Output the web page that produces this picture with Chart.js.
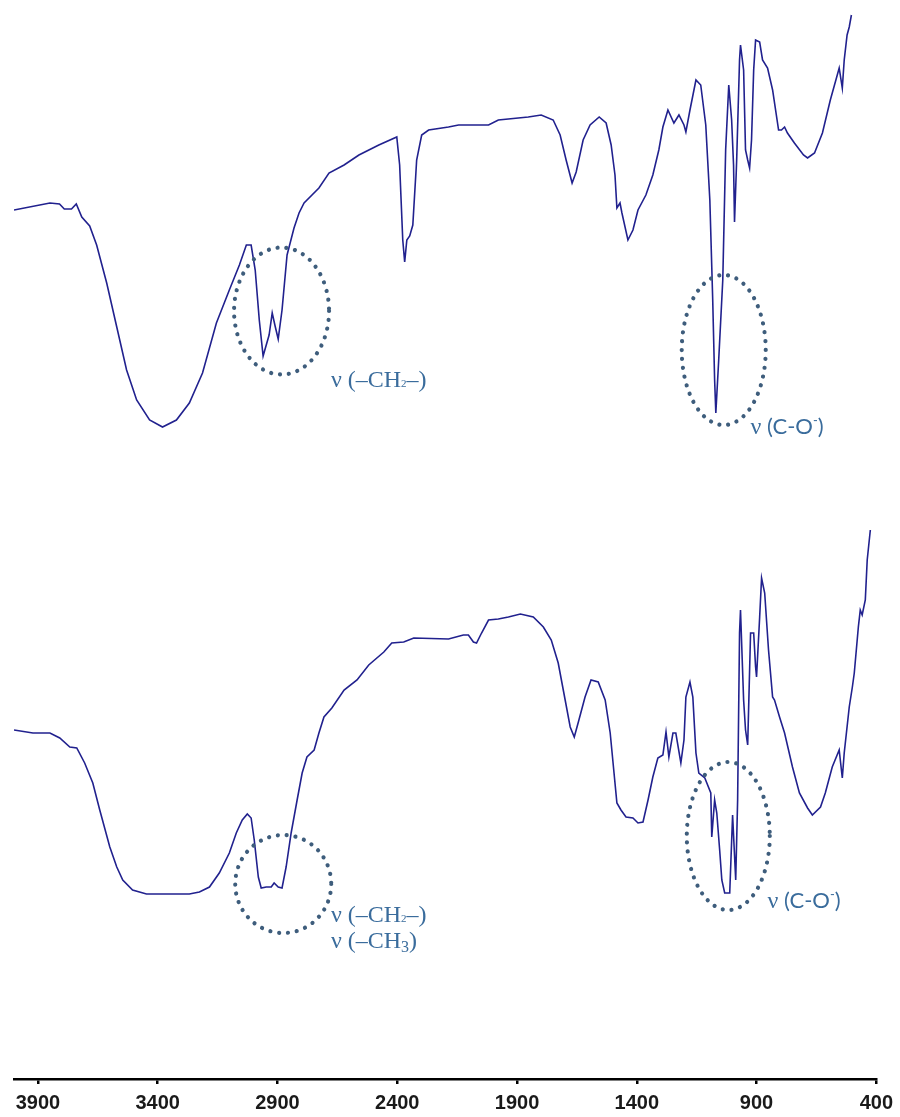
<!DOCTYPE html>
<html>
<head>
<meta charset="utf-8">
<script src="https://cdn.jsdelivr.net/npm/chart.js@4.4.1/dist/chart.umd.min.js"></script>
<style>
  html, body { margin: 0; padding: 0; background: #ffffff; }
  #wrap { width: 900px; height: 1117px; position: relative; }
</style>
</head>
<body>
<div id="wrap"><canvas id="c" width="900" height="1117"></canvas></div>
<script>
// ---------------- data (wavenumber in cm-1, transmittance in arbitrary %T, offset spectra) ----------------
const tickWavenumbers = [3900, 3400, 2900, 2400, 1900, 1400, 900, 400];

const topWavenumber = [4000,3850,3810,3790,3760,3740,3717,3684,3655,3613,3571,3530,3488,3434,3380,3322,3268,3213,3155,3101,3059,3030,3010,2993,2976,2960,2935,2922,2910,2897,2881,2860,2831,2810,2789,2727,2685,2622,2560,2477,2402,2390,2377,2369,2360,2348,2335,2319,2298,2269,2186,2144,2019,1978,1853,1799,1749,1720,1695,1670,1653,1624,1595,1557,1528,1507,1491,1483,1470,1462,1437,1416,1395,1362,1333,1308,1291,1270,1245,1224,1203,1195,1178,1153,1133,1112,1095,1083,1075,1070,1058,1041,1029,1016,1004,996,992,983,971,967,954,946,937,929,921,912,904,887,875,854,833,808,796,783,771,742,704,687,658,625,592,563,555,542,534,522,513,504];
const topTransmittance = [86.9,87.6,87.5,87.0,87.0,87.5,86.2,85.3,83.4,79.6,75.2,70.9,67.9,65.9,65.2,65.9,67.6,70.6,75.6,78.9,81.4,83.4,83.4,80.9,75.9,72.3,74.4,76.6,75.3,74.0,76.9,82.4,85.1,86.6,87.6,89.1,90.6,91.4,92.4,93.4,94.2,91.4,83.9,81.7,83.9,84.3,85.4,91.9,94.4,94.9,95.2,95.4,95.4,95.9,96.2,96.4,95.9,94.4,91.9,89.6,90.7,93.9,95.4,96.2,95.6,93.4,90.4,87.1,87.6,86.6,83.9,84.9,86.9,88.4,90.4,92.9,95.2,96.9,95.6,96.4,95.4,94.7,96.9,99.9,99.4,95.4,87.9,77.9,69.9,66.6,71.9,79.9,92.9,99.4,95.9,91.4,85.7,91.9,101.9,103.4,100.9,92.9,91.9,91.1,93.9,100.9,103.9,103.7,101.9,101.1,98.9,94.9,94.9,95.2,94.6,93.6,92.4,92.1,92.6,94.6,97.9,100.4,101.1,99.1,101.9,104.4,105.2,106.4];

const bottomWavenumber = [4000,3921,3850,3809,3767,3738,3705,3671,3642,3600,3571,3546,3505,3447,3268,3226,3184,3143,3101,3072,3047,3026,3010,2997,2980,2968,2947,2926,2914,2897,2881,2864,2843,2818,2797,2777,2747,2727,2706,2673,2622,2568,2519,2456,2423,2373,2331,2186,2124,2103,2082,2069,2048,2019,1978,1936,1886,1832,1790,1757,1728,1699,1678,1661,1645,1616,1591,1561,1532,1511,1495,1483,1466,1445,1416,1395,1374,1353,1333,1312,1291,1278,1266,1249,1237,1216,1203,1195,1178,1166,1153,1141,1116,1091,1087,1075,1066,1054,1045,1033,1012,1000,987,979,971,967,954,946,937,925,912,904,900,887,879,866,850,833,825,804,783,750,721,687,667,633,613,584,555,542,534,513,500,492,475,467,459,446,438,425];
const bottomTransmittance = [34.9,34.6,34.6,34.1,33.2,33.1,31.6,29.6,26.9,23.2,21.2,19.9,18.9,18.5,18.5,18.7,19.2,20.6,22.6,24.6,25.9,26.5,26.1,23.9,20.2,19.1,19.2,19.2,19.6,19.2,19.1,21.2,24.6,27.9,30.6,32.2,32.9,34.6,36.2,37.1,38.9,39.9,41.4,42.7,43.6,43.7,44.1,44.0,44.4,44.4,43.7,43.6,44.6,45.9,46.0,46.2,46.5,46.2,45.2,43.9,41.6,37.9,35.2,34.2,35.6,38.2,39.9,39.7,37.9,34.6,30.6,27.6,26.9,26.2,26.1,25.6,25.7,27.9,30.2,32.1,32.4,34.7,32.2,34.6,34.6,31.6,33.9,38.2,39.7,38.2,32.6,30.6,30.1,28.6,24.2,27.9,26.6,22.9,19.9,18.6,18.6,26.4,19.9,27.9,44.6,46.9,37.9,34.9,33.4,44.6,44.6,41.2,40.2,46.2,50.1,48.6,42.9,38.2,37.9,36.2,34.6,31.2,28.6,27.1,26.4,27.2,28.6,31.2,32.9,30.1,32.6,37.2,39.2,40.6,45.2,46.9,46.4,47.9,51.9,54.9];

// band annotations (centre in data units: wavenumber, transmittance)
const bandRings = [
  { wn: 2883, t: 76.8, rx: 47.5, ry: 63.5 },
  { wn: 1037, t: 72.9, rx: 42, ry: 75 },
  { wn: 2876, t: 19.5, rx: 48, ry: 49 },
  { wn: 1018, t: 24.3, rx: 41.5, ry: 74 }
];
const bandLabels = [
  { wn: 2677, t: 69.2, kind: 'CH2' },
  { wn: 925,  t: 64.5, kind: 'CO' },
  { wn: 2677, t: 15.7, kind: 'CH2' },
  { wn: 2677, t: 13.1, kind: 'CH3' },
  { wn: 854,  t: 17.1, kind: 'CO' }
];

function pairs(xs, ys) {
  const n = Math.min(xs.length, ys.length);
  const out = [];
  for (let i = 0; i < n; i++) out.push({ x: xs[i], y: ys[i] });
  return out;
}

const SERIF = '"Liberation Serif", "DejaVu Serif", serif';
const SANS = 'Lato, "Open Sans", sans-serif';
const labelRuns = {
  CH2: [
    { text: 'ν (–CH', font: '24px ' + SERIF, dy: 0 },
    { text: '2', font: '11px ' + SERIF, dy: 0 },
    { text: '–)', font: '24px ' + SERIF, dy: 0 }
  ],
  CH3: [
    { text: 'ν (–CH', font: '24px ' + SERIF, dy: 0 },
    { text: '3', font: '16px ' + SERIF, dy: 4 },
    { text: ')', font: '24px ' + SERIF, dy: 0 }
  ],
  CO: [
    { text: 'ν', font: '24px ' + SERIF, dy: 0 },
    { text: ' (C-O', font: '22px ' + SANS, dy: 0 },
    { text: '-', font: '13px ' + SANS, dy: -9 },
    { text: ')', font: '22px ' + SANS, dy: 0 }
  ]
};

const annotationPlugin = {
  id: 'bandAnnotations',
  afterDatasetsDraw(chart) {
    const { ctx, scales } = chart;
    const xs = scales.x, ys = scales.y;
    ctx.save();
    ctx.strokeStyle = '#3e5d7c';
    ctx.lineWidth = 4.2;
    ctx.lineCap = 'round';
    ctx.setLineDash([0.01, 8.9]);
    bandRings.forEach(r => {
      const cx = xs.getPixelForValue(r.wn);
      const cy = ys.getPixelForValue(r.t);
      ctx.beginPath();
      ctx.ellipse(cx, cy, r.rx, r.ry, 0, 0, Math.PI * 2);
      ctx.stroke();
    });
    ctx.setLineDash([]);
    ctx.fillStyle = '#3a6c9c';
    ctx.textBaseline = 'alphabetic';
    ctx.textAlign = 'left';
    bandLabels.forEach(l => {
      let x = xs.getPixelForValue(l.wn);
      const y = ys.getPixelForValue(l.t);
      labelRuns[l.kind].forEach(run => {
        ctx.font = run.font;
        ctx.fillText(run.text, x, y + run.dy);
        x += ctx.measureText(run.text).width;
      });
    });
    ctx.restore();
  }
};

const lineColor = '#21218e';

new Chart(document.getElementById('c'), {
  type: 'line',
  data: {
    datasets: [
      {
        label: 'upper spectrum',
        data: pairs(topWavenumber, topTransmittance),
        borderColor: lineColor,
        borderWidth: 1.6,
        pointRadius: 0,
        fill: false,
        tension: 0
      },
      {
        label: 'lower spectrum',
        data: pairs(bottomWavenumber, bottomTransmittance),
        borderColor: lineColor,
        borderWidth: 1.6,
        pointRadius: 0,
        fill: false,
        tension: 0
      }
    ]
  },
  options: {
    responsive: false,
    animation: false,
    layout: { padding: { left: 14, right: 21, top: 0, bottom: 0 } },
    plugins: { legend: { display: false }, tooltip: { enabled: false }, title: { display: false } },
    scales: {
      x: {
        type: 'linear',
        reverse: true,
        min: 400,
        max: 4000,
        afterBuildTicks: (scale) => { scale.ticks = tickWavenumbers.map(v => ({ value: v })); },
        afterFit: (scale) => { scale.height = 38; },
        border: { display: true, color: '#000000', width: 2.5 },
        grid: { display: true, drawOnChartArea: false, drawTicks: true, tickLength: 5, color: '#000000', lineWidth: 2.5 },
        ticks: {
          autoSkip: false,
          maxRotation: 0,
          padding: 7,
          color: '#1a1a1a',
          font: { family: '"Liberation Sans", Arial, sans-serif', size: 20, weight: 'bold' },
          callback: (v) => String(v)
        }
      },
      y: {
        display: false,
        min: 0,
        max: 107.9
      }
    }
  },
  plugins: [annotationPlugin]
});
</script>
</body>
</html>
